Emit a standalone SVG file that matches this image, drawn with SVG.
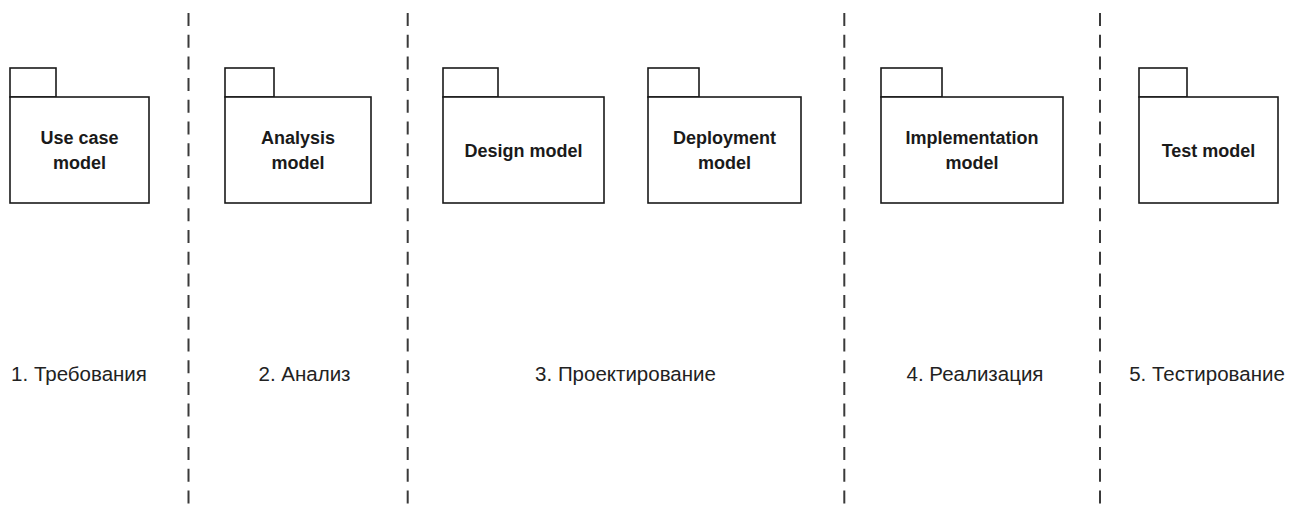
<svg xmlns="http://www.w3.org/2000/svg" width="1297" height="506" viewBox="0 0 1297 506">
  <style>
    .pkg rect { fill: #ffffff; stroke: #1a1a1a; stroke-width: 1.6; }
    .pkg text { font-family: "Liberation Sans", Arial, sans-serif; font-weight: bold; font-size: 18px; fill: #1a1a1a; text-anchor: middle; }
    .sep { stroke: #3a3a3a; stroke-width: 2; stroke-dasharray: 13 8.7; fill: none; }
    .phase { font-family: "Liberation Sans", Arial, sans-serif; font-size: 20.5px; fill: #222222; text-anchor: middle; }
  </style>
  <rect width="1297" height="506" fill="#ffffff"/>

  <!-- phase separators -->
  <g id="separators">
    <line class="sep" x1="188.5" y1="13" x2="188.5" y2="506"/>
    <line class="sep" x1="407.7" y1="13" x2="407.7" y2="506"/>
    <line class="sep" x1="844.3" y1="13" x2="844.3" y2="506"/>
    <line class="sep" x1="1100" y1="13" x2="1100" y2="506"/>
  </g>

  <!-- packages -->
  <g id="use-case-model" class="pkg">
    <rect x="10" y="68" width="46" height="29"/>
    <rect x="10" y="97" width="139" height="106"/>
    <text x="79.5" y="144">Use case</text>
    <text x="79.5" y="169">model</text>
  </g>
  <g id="analysis-model" class="pkg">
    <rect x="225" y="68" width="49" height="29"/>
    <rect x="225" y="97" width="146" height="106"/>
    <text x="298" y="143.5">Analysis</text>
    <text x="298" y="168.5">model</text>
  </g>
  <g id="design-model" class="pkg">
    <rect x="443" y="68" width="55" height="29"/>
    <rect x="443" y="97" width="161" height="106"/>
    <text x="523.5" y="156.5">Design model</text>
  </g>
  <g id="deployment-model" class="pkg">
    <rect x="648" y="68" width="51" height="29"/>
    <rect x="648" y="97" width="153" height="106"/>
    <text x="724.5" y="143.5">Deployment</text>
    <text x="724.5" y="168.5">model</text>
  </g>
  <g id="implementation-model" class="pkg">
    <rect x="881" y="68" width="61" height="29"/>
    <rect x="881" y="97" width="182" height="106"/>
    <text x="972" y="143.5">Implementation</text>
    <text x="972" y="168.5">model</text>
  </g>
  <g id="test-model" class="pkg">
    <rect x="1139" y="68" width="48" height="29"/>
    <rect x="1139" y="97" width="139" height="106"/>
    <text x="1208.5" y="156.5">Test model</text>
  </g>

  <!-- phase labels -->
  <g id="phase-labels">
    <text class="phase" x="79" y="381">1. Требования</text>
    <text class="phase" x="304.5" y="381">2. Анализ</text>
    <text class="phase" x="625.5" y="381">3. Проектирование</text>
    <text class="phase" x="975" y="381">4. Реализация</text>
    <text class="phase" x="1207" y="381">5. Тестирование</text>
  </g>
</svg>
